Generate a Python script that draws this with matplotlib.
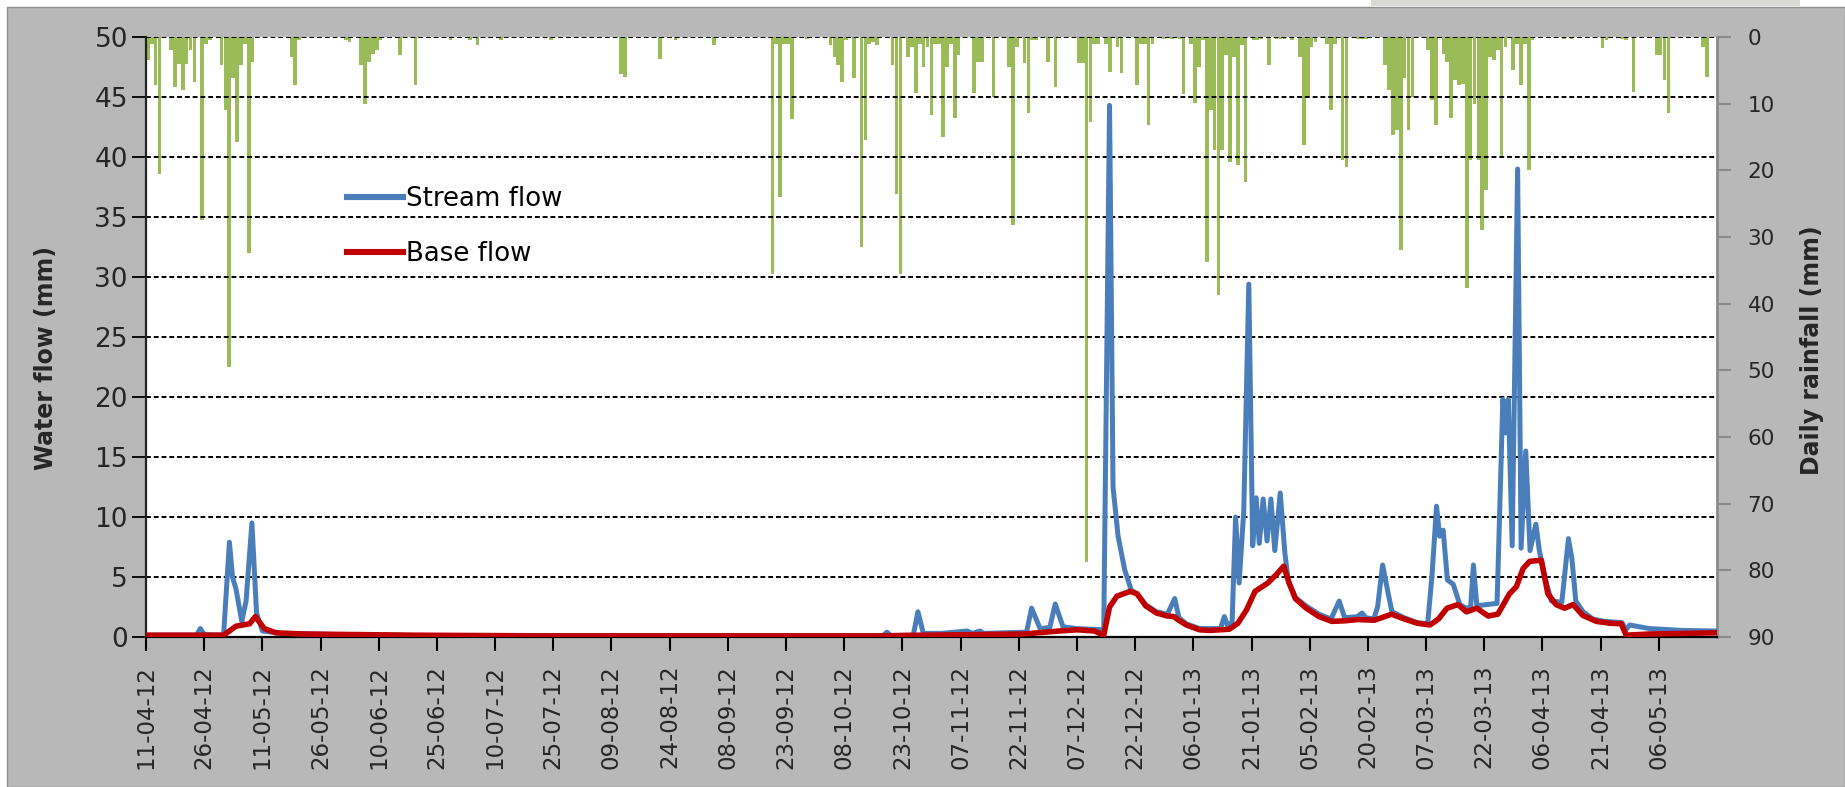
import datetime as dt

import matplotlib
matplotlib.use("Agg")
import matplotlib.pyplot as plt
from matplotlib.lines import Line2D
from matplotlib.patches import Rectangle

plt.rcParams["font.family"] = ["DejaVu Sans"]

START = dt.datetime(2012, 4, 11)
N_DAYS = 405

# Daily rainfall (mm); days counted from 11-04-12, dry days omitted
rain_day = [0, 1, 2, 3, 6, 7, 8, 9, 10, 11, 12, 14, 15, 16, 19, 20, 21, 22, 23, 24,
            25, 26, 27, 37, 38, 39, 51, 52, 55, 56, 57, 58, 59, 60, 65, 69, 78, 83, 85, 91,
            104, 122, 123, 132, 136, 146, 161, 162, 163, 164, 165, 166, 170, 176, 177, 178, 179, 180, 182, 184,
            185, 186, 187, 188, 192, 193, 194, 196, 197, 198, 199, 200, 201, 202, 203, 204, 205, 206, 207, 208,
            209, 213, 214, 215, 218, 222, 223, 224, 226, 227, 228, 229, 232, 234, 240, 241, 242, 243, 244, 245,
            247, 248, 250, 251, 255, 256, 257, 258, 259, 262, 264, 266, 267, 269, 270, 271, 272, 273, 274, 275,
            276, 277, 278, 279, 280, 281, 282, 283, 285, 286, 287, 289, 291, 292, 293, 295, 297, 298, 299, 300,
            301, 304, 305, 306, 308, 309, 312, 313, 314, 319, 320, 321, 322, 323, 324, 325, 326, 330, 331, 332,
            334, 335, 336, 337, 338, 339, 340, 341, 342, 343, 344, 345, 346, 347, 348, 349, 350, 352, 353, 354,
            355, 356, 357, 365, 367, 375, 376, 380, 381, 383, 389, 390, 391, 392, 401, 402]
rain_mm = [3.5, 1.0, 7.2, 20.5, 2.0, 7.5, 4.0, 7.9, 4.0, 2.0, 6.7, 27.4, 1.0, 0.5, 4.2, 11.0, 49.5, 6.2, 15.7, 4.2,
           1.0, 32.4, 3.7, 3.0, 7.2, 0.5, 0.5, 0.7, 4.2, 10.0, 3.8, 2.5, 2.0, 0.5, 2.7, 7.2, 0.5, 0.5, 1.2, 0.5,
           0.5, 5.5, 6.0, 3.3, 0.5, 1.2, 35.5, 1.0, 24.0, 1.0, 1.0, 12.3, 0.3, 1.2, 3.0, 4.2, 6.7, 0.5, 6.2, 31.5,
           15.5, 1.0, 0.8, 1.2, 4.2, 23.5, 35.5, 3.0, 1.5, 8.4, 1.0, 4.5, 1.5, 11.7, 1.0, 1.0, 15.0, 4.5, 1.0, 12.2,
           2.7, 8.4, 3.8, 3.8, 9.0, 4.5, 28.2, 1.5, 3.9, 11.4, 0.5, 0.5, 3.8, 7.5, 3.9, 3.9, 78.8, 12.7, 1.0, 1.0,
           1.0, 5.2, 1.5, 5.4, 7.2, 1.0, 1.0, 13.2, 1.0, 0.3, 0.3, 0.3, 8.5, 1.0, 9.9, 4.5, 0.5, 33.7, 11.0, 17.0,
           38.7, 17.0, 2.7, 18.7, 3.0, 19.2, 1.2, 21.7, 0.5, 0.5, 0.3, 4.2, 0.3, 0.3, 0.3, 0.5, 3.0, 16.2, 9.0, 1.5,
           0.8, 1.0, 11.0, 1.0, 18.5, 19.5, 0.3, 0.3, 0.3, 4.2, 8.0, 14.7, 14.0, 32.0, 6.2, 14.0, 9.0, 2.0, 9.5, 13.2,
           2.5, 3.8, 12.2, 6.5, 7.2, 7.0, 37.7, 18.5, 10.0, 18.5, 29.0, 23.0, 3.0, 3.5, 2.0, 18.0, 1.5, 5.0, 1.0, 7.2,
           1.0, 20.0, 0.5, 0.3, 0.3, 1.7, 0.5, 0.3, 0.5, 8.2, 2.7, 2.7, 6.5, 11.4, 1.5, 6.0]

# Stream flow (mm) at the turning points of the hydrograph
stream_day = [0, 13, 14, 15, 20, 21.5, 22.3, 23.2, 24.7, 25.8, 27.3, 28.5, 30, 35, 50, 70,
              190, 191, 192, 197.8, 199, 200.4, 205, 211.7, 213, 215, 216, 227, 228.3, 230.5, 233, 234.4,
              236.4, 240, 246.9, 248.4, 249.3, 250.6, 252.3, 254, 255.5, 257.7, 260.5, 263.3, 265.2, 266.3, 268.2, 271.6,
              277, 278, 279, 280, 280.9, 281.8, 283, 284.3, 285.3, 286.2, 287, 288, 289, 290, 291, 292.4,
              293.6, 294.5, 296.3, 299, 302.4, 305.5, 307.6, 309, 312.3, 313.5, 314.5, 316.5, 317.5, 318.8, 320, 321.2,
              324.4, 327.7, 330.4, 331.5, 332.7, 333.5, 334.4, 335.5, 337, 338.7, 340.3, 341.5, 342.2, 343.1, 345.5, 348.3,
              349.8, 350.5, 351.2, 352.2, 353.6, 354.5, 355.7, 356.8, 358.3, 359.2, 360.6, 362.3, 365, 366.7, 367.6, 368.6,
              370.5, 373, 376, 380.5, 381.5, 382.5, 387.6, 396, 405]
stream_mm = [0.15, 0.15, 0.7, 0.2, 0.15, 7.9, 5.0, 4.0, 1.3, 3.0, 9.5, 2.0, 0.5, 0.3, 0.2, 0.12,
             0.12, 0.4, 0.12, 0.15, 2.1, 0.3, 0.3, 0.5, 0.3, 0.5, 0.3, 0.4, 2.4, 0.7, 0.8, 2.75,
             0.85, 0.7, 0.6, 44.3, 12.5, 8.4, 5.6, 3.9, 3.6, 2.7, 2.1, 1.9, 3.2, 1.6, 1.1, 0.7,
             0.7, 1.7, 0.8, 1.3, 10.0, 4.5, 10.5, 29.4, 7.6, 11.6, 7.8, 11.5, 8.0, 11.5, 7.2, 12.0,
             7.0, 4.6, 3.3, 2.6, 1.9, 1.5, 3.0, 1.6, 1.7, 2.0, 1.6, 1.5, 2.5, 6.0, 4.0, 2.1,
             1.6, 1.2, 1.1, 5.0, 10.9, 8.4, 8.9, 4.75, 4.4, 2.7, 2.4, 2.5, 6.0, 2.6, 2.7, 2.8,
             19.8, 17.0, 19.8, 7.6, 39.0, 7.4, 15.5, 7.2, 9.4, 7.2, 5.0, 3.0, 2.9, 8.2, 6.5, 3.0,
             2.1, 1.5, 1.3, 1.2, 0.6, 1.0, 0.7, 0.55, 0.5]

# Base flow (mm) separated from the stream flow
base_day = [0, 20, 23.2, 26.7, 28.2, 30.5, 33.5, 40.4, 69, 100, 190, 200, 214, 226, 230, 235.4,
            240, 244.5, 246.9, 248.4, 250.3, 253.7, 255.5, 257.7, 260.5, 263.3, 265, 266, 268.2, 271.6, 274.3, 279.3,
            281.5, 283.7, 285.9, 289.2, 291.4, 293.3, 294.7, 296.3, 299.1, 302.4, 305.7, 309, 312.3, 316.7, 321.1, 324.4,
            327.7, 331, 333.2, 335.4, 338.2, 340.4, 343.1, 346, 348.5, 351.5, 353.3, 355, 356.7, 359.7, 361.4, 363.5,
            365.7, 367.9, 370.4, 373.9, 377.3, 380.3, 381.6, 387.6, 396.2, 405]
base_mm = [0.15, 0.15, 0.9, 1.1, 1.7, 0.7, 0.35, 0.25, 0.15, 0.1, 0.1, 0.15, 0.2, 0.25, 0.35, 0.5,
           0.6, 0.5, 0.15, 2.5, 3.4, 3.8, 3.6, 2.6, 2.0, 1.75, 1.7, 1.45, 1.0, 0.6, 0.55, 0.65,
           1.15, 2.25, 3.8, 4.5, 5.2, 5.9, 4.5, 3.2, 2.4, 1.7, 1.3, 1.35, 1.45, 1.4, 1.9, 1.5,
           1.15, 1.0, 1.5, 2.4, 2.7, 2.1, 2.4, 1.75, 1.9, 3.6, 4.2, 5.7, 6.3, 6.4, 3.6, 2.7,
           2.4, 2.7, 1.8, 1.3, 1.15, 1.1, 0.15, 0.25, 0.3, 0.35]

tick_labels = ["11-04-12", "26-04-12", "11-05-12", "26-05-12", "10-06-12", "25-06-12", "10-07-12",
               "25-07-12", "09-08-12", "24-08-12", "08-09-12", "23-09-12", "08-10-12", "23-10-12",
               "07-11-12", "22-11-12", "07-12-12", "22-12-12", "06-01-13", "21-01-13", "05-02-13",
               "20-02-13", "07-03-13", "22-03-13", "06-04-13", "21-04-13", "06-05-13"]

flow_ticks = list(range(0, 51, 5))
rain_ticks = list(range(0, 91, 10))

BLUE = "#4a7ebb"
RED = "#c00000"
GREEN = "#9bbb59"
PANEL = "#b8b8b8"
TXT = "#262626"


def as_dates(days):
    return [START + dt.timedelta(days=d) for d in days]


W, H = 1845, 787
fig = plt.figure(figsize=(W / 100, H / 100), dpi=100)
fig.patch.set_facecolor("white")

# grey chart panel behind the plot area
fig.patches.append(Rectangle((7 / W, 0), 1 - 7 / W, 1 - 7 / H, transform=fig.transFigure,
                             facecolor=PANEL, edgecolor="#8f8f8f", lw=1.0, zorder=-10))
fig.patches.append(Rectangle((1371 / W, 1 - 6 / H), (1800 - 1371) / W, 6 / H, transform=fig.transFigure,
                             facecolor="#dadad4", edgecolor="none", zorder=-10))

left, right, top, bottom = 146, 1717, 37, 637
ax_rect = [left / W, 1 - bottom / H, (right - left) / W, (bottom - top) / H]

ax2 = fig.add_axes(ax_rect, zorder=1)           # rainfall, right axis, inverted
ax = fig.add_axes(ax_rect, sharex=ax2, zorder=2)  # flows, left axis
ax2.set_facecolor("white")
ax.patch.set_visible(False)

# rainfall bars hanging from the top
ax2.bar(as_dates(rain_day), rain_mm, width=0.95, align="edge", color=GREEN, linewidth=0)
ax2.set_ylim(90, 0)
ax2.set_yticks(rain_ticks)
ax2.yaxis.tick_right()
ax2.yaxis.set_label_position("right")
ax2.tick_params(axis="y", direction="out", length=10, width=1.5, color="#8a8a8a",
                labelsize=15.5, labelcolor=TXT, pad=12)
ax2.tick_params(axis="x", bottom=False, labelbottom=False)
for side in ("left", "top", "bottom"):
    ax2.spines[side].set_visible(False)
ax2.spines["right"].set_color("#8a8a8a")
ax2.spines["right"].set_linewidth(2.0)

# flows
ax.plot(as_dates(stream_day), stream_mm, color=BLUE, lw=3.6, solid_joinstyle="round",
        solid_capstyle="round", zorder=3)
ax.plot(as_dates(base_day), base_mm, color=RED, lw=4.0, solid_joinstyle="round",
        solid_capstyle="round", zorder=4)
ax.set_ylim(0, 50)
ax.set_yticks(flow_ticks)
ax.yaxis.grid(True, color="black", linestyle=(0, (2.5, 1.5)), linewidth=1.4)
ax.set_axisbelow(True)
ax.tick_params(axis="y", direction="out", length=10, width=1.3, labelsize=19, labelcolor=TXT, pad=3)

tick_dates = [dt.datetime.strptime(s, "%d-%m-%y") for s in tick_labels]
ax.set_xticks(tick_dates)
ax.set_xticklabels(tick_labels, rotation=90, fontsize=16.5, color=TXT)
ax.tick_params(axis="x", direction="out", length=10, width=1.5, pad=10)
ax.set_xlim(START, START + dt.timedelta(days=N_DAYS))

for side in ("top", "right"):
    ax.spines[side].set_visible(False)
ax.spines["left"].set_color("#222222")
ax.spines["left"].set_linewidth(1.6)
ax.spines["bottom"].set_color("black")
ax.spines["bottom"].set_linewidth(1.6)

handles = [Line2D([], [], color=BLUE, lw=4.4), Line2D([], [], color=RED, lw=4.4)]
ax.legend(handles, ["Stream flow", "Base flow"], loc="upper left", bbox_to_anchor=(0.128, 0.752),
          frameon=False, fontsize=18.7, handlelength=2.15, handletextpad=0.1,
          labelspacing=1.12, borderpad=0, borderaxespad=0)

fig.text(46 / W, 1 - 358 / H, "Water flow (mm)", rotation=90, ha="center", va="center",
         fontsize=17, fontweight="bold", color=TXT)
fig.text(1812 / W, 1 - 350 / H, "Daily rainfall (mm)", rotation=90, ha="center", va="center",
         fontsize=17, fontweight="bold", color=TXT)

fig.savefig("out.png", dpi=100, facecolor=fig.get_facecolor())
